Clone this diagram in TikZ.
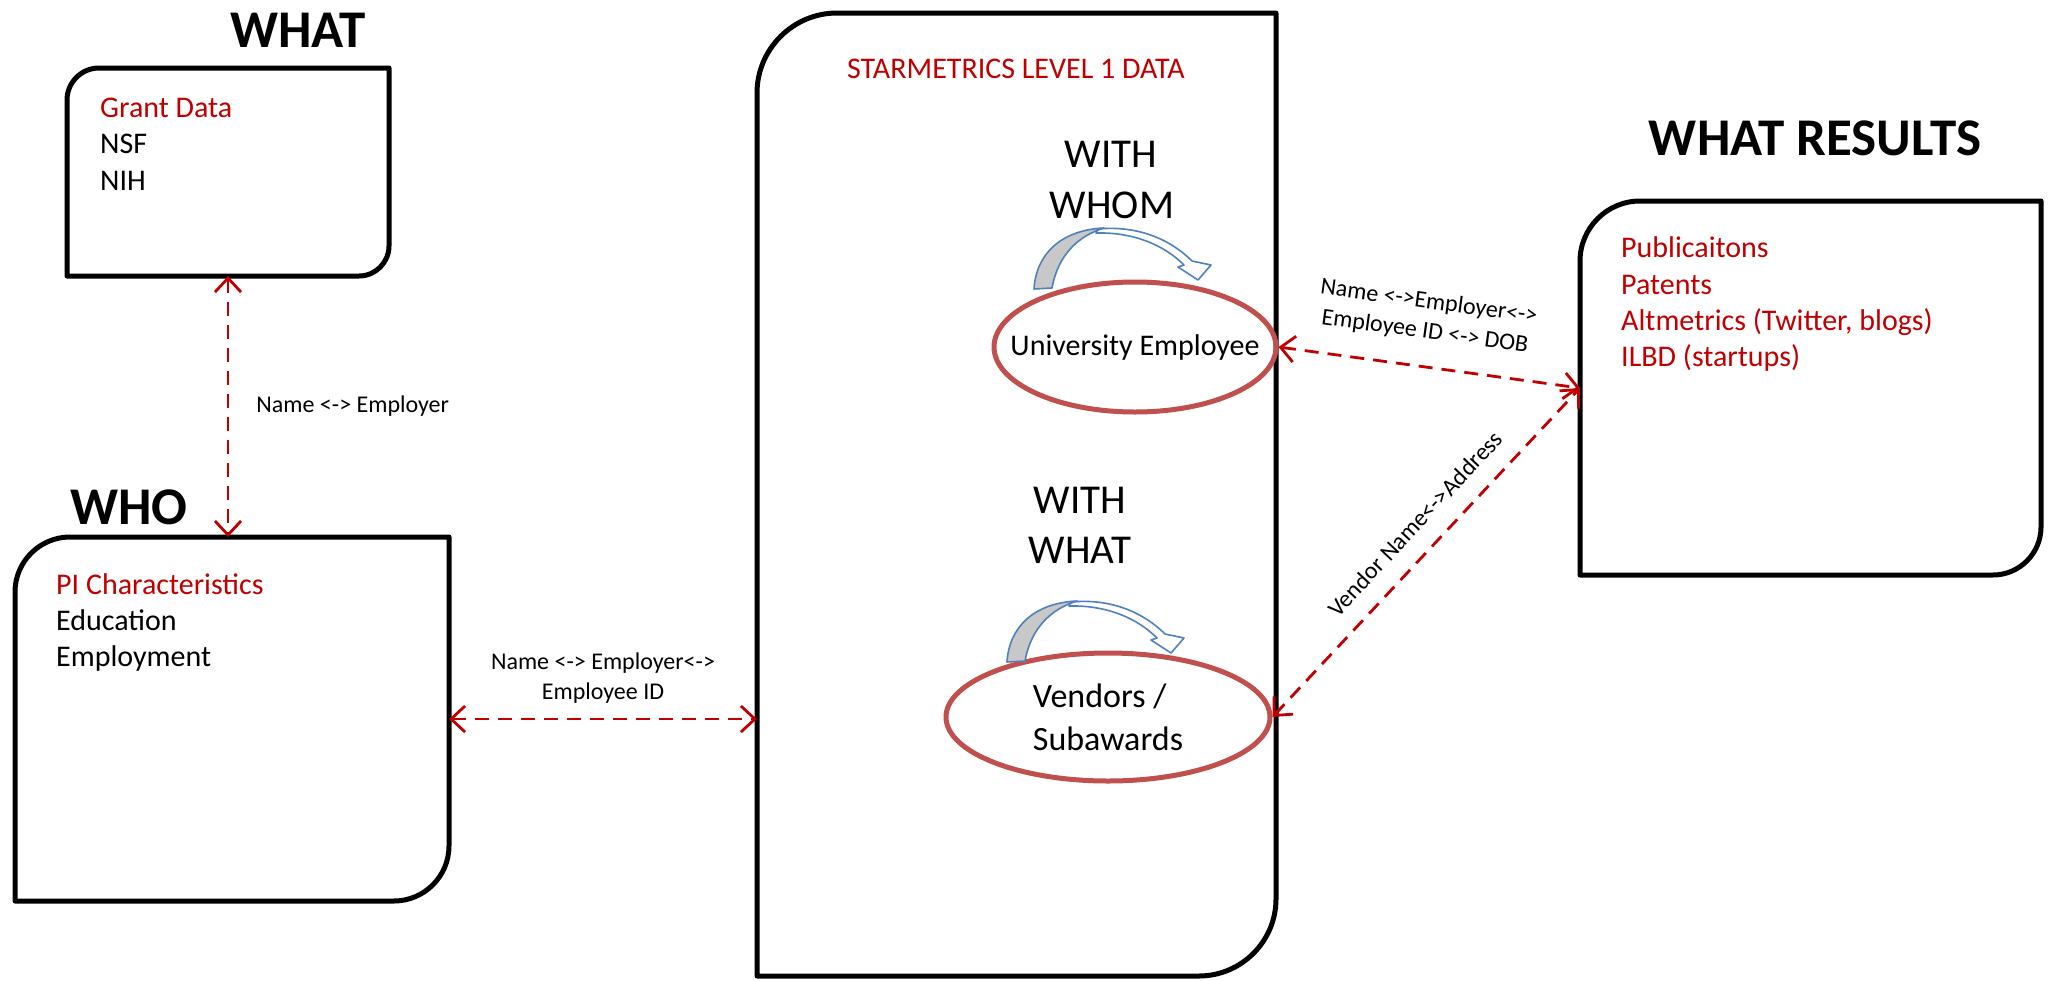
\documentclass[tikz,border=0pt]{standalone}
\usepackage{fontspec}
\setmainfont{Carlito}
\usetikzlibrary{arrows.meta,shapes.geometric,calc}
\definecolor{txtred}{RGB}{192,0,0}
\definecolor{ellred}{RGB}{192,80,77}
\definecolor{arcblue}{RGB}{79,129,189}
\definecolor{arcgray}{RGB}{200,200,200}
\tikzset{
  boxline/.style={draw=black, line width=5pt, line join=round},
  frame/.style={inner sep=0, outer sep=0, anchor=north west},
  item/.style={anchor=base west, inner sep=0, font=\fontsize{30}{36}\selectfont},
  lineitem/.style={anchor=base, inner sep=0, font=\fontsize{30}{36}\selectfont},
  bigitem/.style={anchor=base, inner sep=0, font=\fontsize{41}{50}\selectfont},
  title/.style={inner sep=0, font=\fontsize{53}{60}\selectfont\bfseries},
  ell/.style={ellipse, draw=ellred, line width=5pt, inner sep=0},
  lbl/.style={inner sep=0, text=black, font=\fontsize{24}{30}\selectfont},
  conn/.style={draw=txtred, line width=2.8pt, dash pattern=on 14pt off 9pt,
    {Straight Barb[length=14pt,width=26pt]}-{Straight Barb[length=14pt,width=26pt]}},
  arcpart/.style={draw=arcblue, line width=1.6pt, line join=round}
}
\newcommand{\cornerbox}[3]{%
  \draw[boxline] (#1.south west) -- ($(#1.north west)+(0,#2)$)
    .. controls ($(#1.north west)+(0,0.45*#2)$) and ($(#1.north west)+(0.45*#2,0)$) .. ($(#1.north west)+(#2,0)$)
    -- (#1.north east) -- ($(#1.south east)+(0,-#3)$)
    .. controls ($(#1.south east)+(0,-0.45*#3)$) and ($(#1.south east)+(-0.45*#3,0)$) .. ($(#1.south east)+(-#3,0)$)
    -- cycle;}
\newcommand{\myarcarrow}{%
  \filldraw[arcpart, fill=white] (1098,229) .. controls (1140,225) and (1172,241) .. (1192,261)
    -- (1211,265) -- (1198,280) -- (1178,267) -- (1184,265)
    .. controls (1165,246) and (1135,232) .. (1096,233) -- cycle;
  \filldraw[arcpart, fill=arcgray] (1034,289) .. controls (1036,255) and (1060,230) .. (1104,228)
    .. controls (1078,236) and (1058,255) .. (1052,288) -- cycle;}
\begin{document}
\begin{tikzpicture}[x=1pt,y=-1pt]
\useasboundingbox (0,0) rectangle (2048,980);
\fill[white] (0,0) rectangle (2048,980);

% box frames
\node[frame, minimum width=322pt, minimum height=208pt] (whatbox) at (67,68) {};
\node[frame, minimum width=434pt, minimum height=364pt] (whobox) at (15,537) {};
\node[frame, minimum width=519pt, minimum height=963pt] (starbox) at (757,13) {};
\node[frame, minimum width=461pt, minimum height=374pt] (resbox) at (1580,201) {};
\cornerbox{whatbox}{32}{30}
\cornerbox{whobox}{55}{55}
\cornerbox{starbox}{80}{77}
\cornerbox{resbox}{60}{48}

% titles
\node[title] (t1) at (298,30) {WHAT};
\node[title] (t2) at (129,507) {WHO};
\node[title] (t3) at (1815,138) {WHAT RESULTS};

% WHAT box text
\node[item, text=txtred] (g1) at (100,117) {Grant Data};
\node[item] (g2) at (100,153) {NSF};
\node[item] (g3) at (100,190) {NIH};

% WHO box text
\node[item, text=txtred] (p1) at (56,594) {PI Characteristics};
\node[item] (p2) at (56,630) {Education};
\node[item] (p3) at (56,666) {Employment};

% results text
\node[item, text=txtred] (r1) at (1621,257) {Publicaitons};
\node[item, text=txtred] (r2) at (1621,294) {Patents};
\node[item, text=txtred] (r3) at (1621,330) {Altmetrics (Twitter, blogs)};
\node[item, text=txtred] (r4) at (1621,366) {ILBD (startups)};

% starmetrics box content
\node[lineitem, text=txtred] (s1) at (1016,78) {STARMETRICS LEVEL 1 DATA};
\node[bigitem] (w1) at (1111,167) {WITH};
\node[bigitem] (w2) at (1112,218) {WHOM};
\node[bigitem] (w3) at (1080,513) {WITH};
\node[bigitem] (w4) at (1080,563) {WHAT};

\node[ell, minimum width=282pt, minimum height=130pt,
  label={[inner sep=0, font=\fontsize{30}{36}\selectfont]center:University Employee}] (emp) at (1135,347) {};
\node[ell, minimum width=324pt, minimum height=128pt,
  label={[inner sep=0, align=left, font=\fontsize{34}{43}\selectfont]center:{Vendors /\\Subawards}}] (vend) at (1108,717) {};

\myarcarrow
\begin{scope}[shift={(-27,373)}]
\myarcarrow
\end{scope}

% connectors
\draw[conn] (whatbox.south) -- (whatbox.south |- whobox.north)
  node[midway, right=27pt, lbl] (l1) {Name <-> Employer};
\draw[conn] (whobox.east) -- (whobox.east -| starbox.west)
  node[midway, above=14pt, lbl, align=center] (l2) {Name <-> Employer<->\\Employee ID};
\draw[conn] (emp.east) -- (resbox.west)
  node[pos=0.47, sloped, above=23pt, lbl, align=center] (l3) {Name <->Employer<->\\Employee ID <-> DOB};
\draw[conn] (vend.east) -- (resbox.west)
  node[pos=0.53, sloped, above=18pt, lbl] (l4) {Vendor Name<->Address};
\end{tikzpicture}
\end{document}
